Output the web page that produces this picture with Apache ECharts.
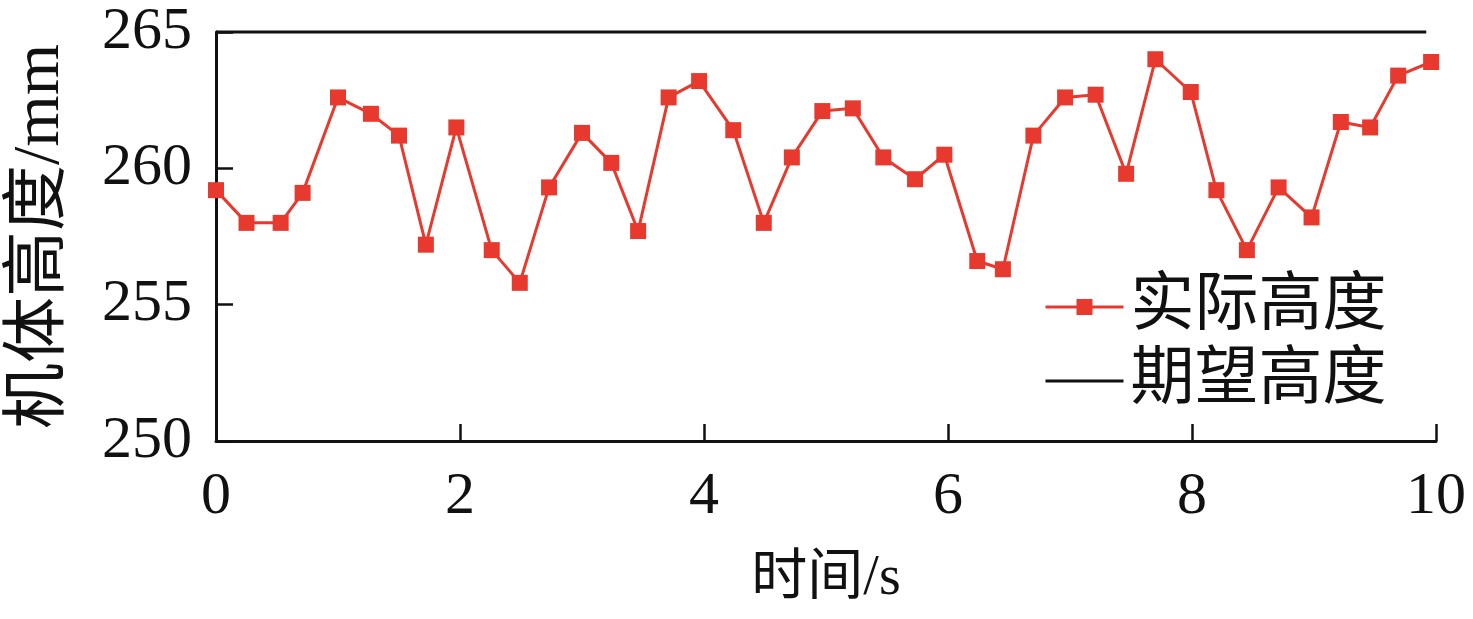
<!DOCTYPE html>
<html>
<head>
<meta charset="utf-8">
<script src="https://cdn.jsdelivr.net/npm/echarts@6/dist/echarts.min.js"></script>
<style>html,body{margin:0;padding:0;background:#fff;}#c{width:1473px;height:619px;}</style>
</head>
<body>
<div id="c"></div>
<script>
const timeS = [0.00,0.25,0.53,0.71,1.00,1.27,1.50,1.72,1.97,2.26,2.49,2.73,3.00,3.24,3.46,3.71,3.96,4.24,4.49,4.72,4.97,5.22,5.47,5.73,5.97,6.24,6.45,6.70,6.96,7.21,7.46,7.70,7.99,8.20,8.45,8.71,8.98,9.22,9.46,9.69,9.96];
const actualHeight = [259.2,258.0,258.0,259.1,262.6,262.0,261.2,257.2,261.5,257.0,255.8,259.3,261.3,260.2,257.7,262.6,263.2,261.4,258.0,260.4,262.1,262.2,260.4,259.6,260.5,256.6,256.3,261.2,262.6,262.7,259.8,264.0,262.8,259.2,257.0,259.3,258.2,261.7,261.5,263.4,263.9];
const expectedX = [0, 9.92];
const expectedHeight = [265, 265];
const xTicks = [0,2,4,6,8,10];
const yTicks = [250,255,260,265];
const seriesNames = ['实际高度','期望高度'];

const FONT = "'Liberation Serif','Noto Sans CJK SC',serif";
const chart = echarts.init(document.getElementById('c'));
chart.setOption({
  animation:false,
  backgroundColor:'#fff',
  grid:{left:216,right:37,top:32,bottom:178,containLabel:false,outerBoundsMode:'none'},
  legend:{
    orient:'vertical', left:1039, top:270,
    itemWidth:78, itemHeight:20, itemGap:10,
    lineStyle:{width:3},
    textStyle:{fontFamily:FONT,fontSize:64,color:'#111',padding:[0,0,0,2]},
    data:[
      {name:seriesNames[0]},
      {name:seriesNames[1], itemStyle:{color:'rgba(0,0,0,0)'}}
    ]
  },
  xAxis:{
    type:'value', min:0, max:10, interval:2,
    axisLine:{show:true,lineStyle:{color:'#111',width:3}},
    axisTick:{show:true,inside:true,length:17,lineStyle:{color:'#111',width:2.5}},
    axisLabel:{fontFamily:FONT,fontSize:60,color:'#111',margin:26,
      formatter:v=>xTicks.includes(v)?String(v):''},
    splitLine:{show:false},
    name:'时间/s', nameLocation:'middle', nameGap:110,
    nameTextStyle:{fontFamily:FONT,fontSize:56,color:'#111'}
  },
  yAxis:{
    type:'value', min:250, max:265, interval:5,
    axisLine:{show:true,lineStyle:{color:'#111',width:3}},
    axisTick:{show:true,inside:true,length:17,lineStyle:{color:'#111',width:2.5}},
    axisLabel:{fontFamily:FONT,fontSize:60,color:'#111',margin:24,
      formatter:v=>yTicks.includes(v)?String(v):''},
    splitLine:{show:false},
    name:'机体高度/mm', nameLocation:'middle', nameGap:142, nameRotate:90,
    nameTextStyle:{fontFamily:FONT,fontSize:66,color:'#111'}
  },
  series:[
    {
      name:seriesNames[0], type:'line',
      data:timeS.map((t,i)=>[t,actualHeight[i]]),
      symbol:'rect', symbolSize:16, showSymbol:true,
      itemStyle:{color:'#e8392e'},
      lineStyle:{color:'#e8392e',width:3},
      z:3
    },
    {
      name:seriesNames[1], type:'line',
      data:expectedX.map((t,i)=>[t,expectedHeight[i]]),
      symbol:'none', showSymbol:false,
      itemStyle:{color:'#111'},
      lineStyle:{color:'#111',width:3},
      clip:false, z:2
    }
  ]
});
</script>
</body>
</html>
